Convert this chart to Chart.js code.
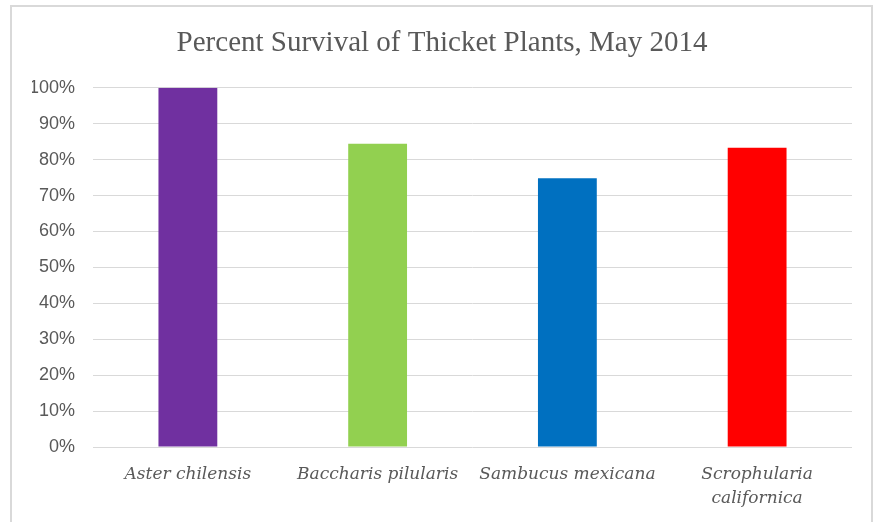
<!DOCTYPE html>
<html>
<head>
<meta charset="utf-8">
<script src="https://cdn.jsdelivr.net/npm/chart.js@4.4.1/dist/chart.umd.min.js"></script>
<style>
    html, body { margin: 0; padding: 0; background: #ffffff; }
    #marco {
        position: absolute; left: 10px; top: 5px; width: 859px; height: 530px;
        border-left: 2px solid #d9d9d9; border-top: 2px solid #d9d9d9; border-right: 2px solid #d9d9d9;
    }
    #caja { position: absolute; left: 0; top: 0; width: 877px; height: 522px; }
</style>
</head>
<body>
<div id="marco"></div>
<div id="caja"><canvas id="grafico1"></canvas></div>
<script>
// Datos
const especies = ['Aster chilensis', 'Baccharis pilularis', 'Sambucus mexicana', ['Scrophularia', 'californica']];
const supervivencia = [100, 84.4, 74.8, 83.3];
const colores = ['#7030a0', '#92d050', '#0070c0', '#ff0000'];
const marcasY = [0, 10, 20, 30, 40, 50, 60, 70, 80, 90, 100];

const grafico1 = document.getElementById('grafico1').getContext('2d');

window.graficaSupervivencia = new Chart(grafico1, {
    type: 'bar',
    data: {
        labels: especies,
        datasets: [{
            label: 'Supervivencia',
            data: supervivencia,
            backgroundColor: colores,
            borderWidth: 0,
            barPercentage: 0.62,
            categoryPercentage: 0.5
        }]
    },
    options: {
        responsive: true,
        maintainAspectRatio: false,
        animation: false,
        layout: { padding: { left: 32, right: 25, top: 0, bottom: 0 } },
        plugins: {
            legend: { display: false },
            tooltip: { enabled: false },
            title: {
                display: true,
                text: 'Percent Survival of Thicket Plants, May 2014',
                color: '#595959',
                font: { family: 'Liberation Serif', size: 29, weight: 'normal' },
                padding: { top: 26, bottom: 27 }
            }
        },
        scales: {
            x: {
                grid: { display: false },
                border: { display: false },
                ticks: {
                    color: '#595959',
                    padding: 7,
                    maxRotation: 0,
                    autoSkip: false,
                    font: { family: 'DejaVu Serif', style: 'italic', size: 17, lineHeight: 1.45 }
                },
                afterFit: (escala) => { escala.height = 75; }
            },
            y: {
                min: 0,
                max: 100,
                afterBuildTicks: (escala) => { escala.ticks = marcasY.map(v => ({ value: v })); },
                grid: { color: '#d9d9d9', lineWidth: 1, drawTicks: false },
                border: { display: false },
                ticks: {
                    color: '#595959',
                    padding: 18,
                    font: { family: 'Liberation Sans', size: 18 },
                    callback: (v) => v + '%'
                },
                afterFit: (escala) => { escala.width = 61; }
            }
        }
    }
});
</script>
</body>
</html>
